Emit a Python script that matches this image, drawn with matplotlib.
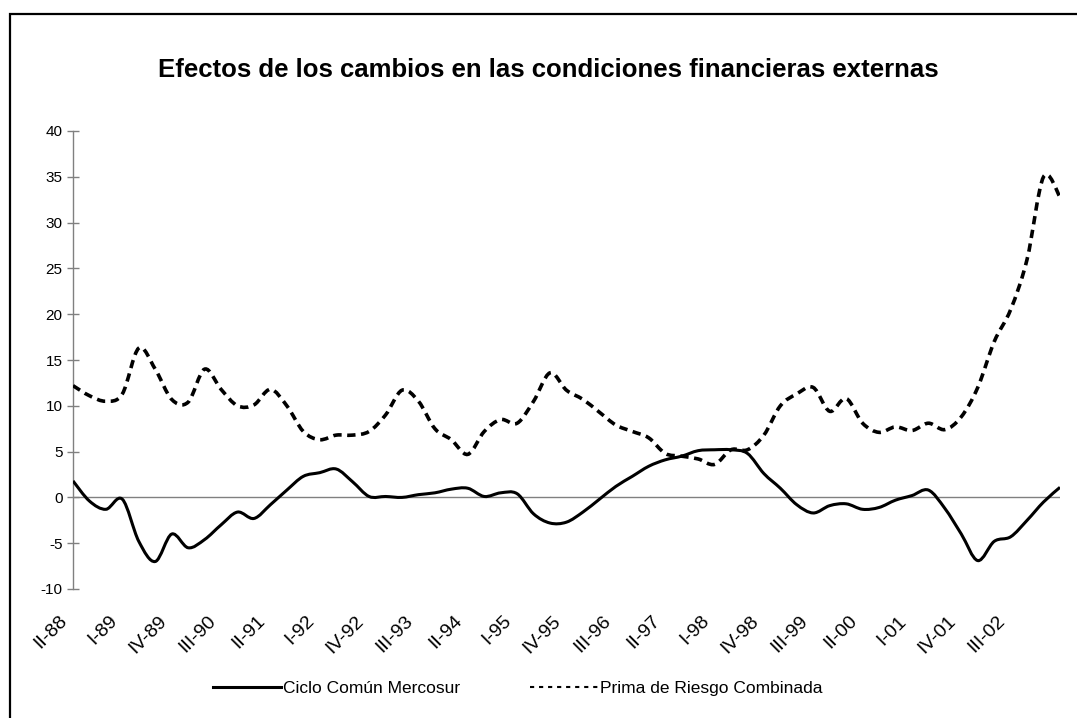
import matplotlib
matplotlib.use("Agg")
import matplotlib.pyplot as plt
import matplotlib.font_manager as fm
import matplotlib.transforms as mtransforms
from matplotlib.lines import Line2D
from matplotlib.patches import Rectangle, PathPatch
from matplotlib.path import Path
import numpy as np

# ---- data ----
tick_labels = ["II-88", "I-89", "IV-89", "III-90", "II-91", "I-92", "IV-92", "III-93",
               "II-94", "I-95", "IV-95", "III-96", "II-97", "I-98", "IV-98", "III-99",
               "II-00", "I-01", "IV-01", "III-02"]

ciclo_comun = [1.8, -0.4, -1.3, -0.2, -4.8, -7.0, -4.0, -5.5, -4.6, -3.0,
               -1.6, -2.3, -0.8, 0.8, 2.3, 2.7, 3.1, 1.7, 0.1, 0.1,
               0.0, 0.3, 0.5, 0.9, 1.0, 0.1, 0.5, 0.4, -1.8, -2.8,
               -2.7, -1.6, -0.2, 1.2, 2.3, 3.4, 4.1, 4.5, 5.1, 5.2,
               5.2, 4.8, 2.6, 1.0, -0.8, -1.7, -0.9, -0.7, -1.3, -1.1,
               -0.3, 0.2, 0.8, -1.2, -4.0, -6.9, -4.8, -4.3, -2.5, -0.5,
               1.1]

prima_riesgo = [12.2, 11.1, 10.5, 11.3, 16.3, 14.0, 10.7, 10.4, 14.0, 11.8,
                10.0, 10.1, 11.8, 10.0, 7.2, 6.3, 6.8, 6.8, 7.2, 9.0,
                11.7, 10.5, 7.5, 6.3, 4.7, 7.2, 8.5, 8.1, 10.5, 13.6,
                11.7, 10.7, 9.3, 7.9, 7.2, 6.5, 4.8, 4.5, 4.2, 3.6,
                5.2, 5.2, 6.8, 10.0, 11.3, 12.0, 9.4, 10.8, 8.1, 7.1,
                7.7, 7.3, 8.1, 7.4, 8.8, 12.0, 17.0, 20.5, 26.0, 35.0,
                32.8]

series_names = ["Ciclo Común Mercosur", "Prima de Riesgo Combinada"]
title = "Efectos de los cambios en las condiciones financieras externas"

# ---- fonts ----
names = {f.name for f in fm.fontManager.ttflist}
base = "Liberation Sans" if "Liberation Sans" in names else "DejaVu Sans"
plt.rcParams["font.family"] = [base, "DejaVu Sans"]
plt.rcParams["lines.scale_dashes"] = False
plt.rcParams["axes.unicode_minus"] = False

W, H = 1077, 718
fig = plt.figure(figsize=(W / 100, H / 100), dpi=100)
fig.patch.set_facecolor("white")

ax = fig.add_axes([73 / W, 1 - 589 / H, (1060 - 73) / W, (589 - 131) / H])


def smooth_path(xs, ys):
    """Excel-style smoothed line: cubic Bezier segments through every data point."""
    xs = np.asarray(xs, float)
    ys = np.asarray(ys, float)
    n = len(xs)
    verts = [(xs[0], ys[0])]
    codes = [Path.MOVETO]
    for i in range(n - 1):
        i0 = max(i - 1, 0)
        i3 = min(i + 2, n - 1)
        c1 = (xs[i] + (xs[i + 1] - xs[i0]) / 6, ys[i] + (ys[i + 1] - ys[i0]) / 6)
        c2 = (xs[i + 1] - (xs[i3] - xs[i]) / 6, ys[i + 1] - (ys[i3] - ys[i]) / 6)
        verts += [c1, c2, (xs[i + 1], ys[i + 1])]
        codes += [Path.CURVE4] * 3
    return Path(verts, codes)


x = np.arange(len(ciclo_comun))
ax.add_patch(PathPatch(smooth_path(x, ciclo_comun), facecolor="none", edgecolor="black",
                       lw=2.2, joinstyle="round", zorder=3))
ax.add_patch(PathPatch(smooth_path(x, prima_riesgo), facecolor="none", edgecolor="black",
                       lw=2.6, linestyle=(0, (6, 4)), zorder=3))
ax.axhline(0, color="#808080", lw=1.0, zorder=2)

ax.set_xlim(0, len(ciclo_comun) - 1)
ax.set_ylim(-10, 40)
ax.set_yticks(np.arange(-10, 41, 5))
ax.set_xticks(np.arange(0, 3 * len(tick_labels), 3))
ax.set_xticklabels(tick_labels, rotation=45, ha="right", va="top",
                   rotation_mode="anchor", fontsize=14)
for s in ["top", "right", "bottom"]:
    ax.spines[s].set_visible(False)
ax.spines["left"].set_color("#808080")
ax.spines["left"].set_linewidth(1.0)
ax.tick_params(axis="y", direction="inout", length=9, width=1.0, color="#808080",
               labelsize=11, pad=3)
ax.tick_params(axis="x", length=0, pad=17)
shift = mtransforms.ScaledTranslation(-14 / 100, 0, fig.dpi_scale_trans)
for lab in ax.get_xticklabels():
    lab.set_transform(lab.get_transform() + shift)

# title
fig.text(548 / W, 1 - 70 / H, title, ha="center", va="center",
         fontsize=18.5, fontweight="bold")

# legend with proxy handles
h1 = Line2D([], [], color="black", lw=2.2)
h2 = Line2D([], [], color="black", lw=1.5, dashes=(3, 3.5))
fig.legend([h1, h2], series_names, loc="center", bbox_to_anchor=(518 / W, 1 - 688 / H),
           ncol=2, frameon=False, handlelength=3.9, handletextpad=0.15,
           columnspacing=4.0, prop={"size": 12.5})

# outer frame
fig.add_artist(Rectangle((10 / W, -0.1), 1.2, (H - 14) / H + 0.1,
                         transform=fig.transFigure, fill=False, lw=1.6,
                         edgecolor="black"))

fig.savefig("out.png", dpi=100)
